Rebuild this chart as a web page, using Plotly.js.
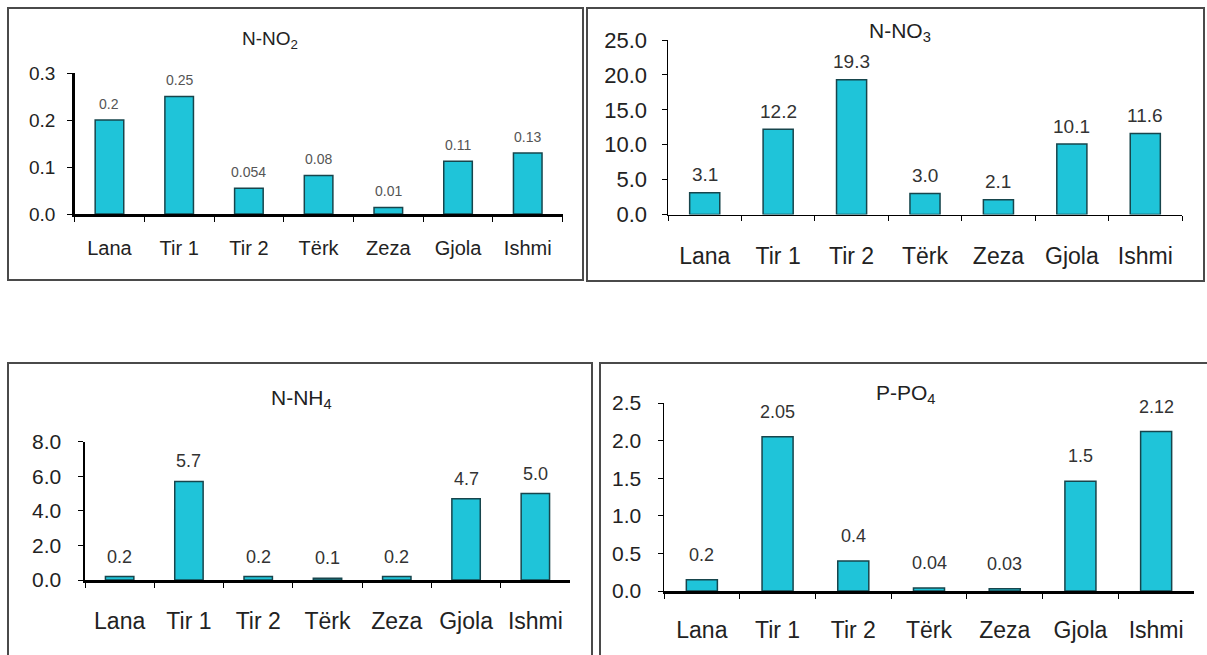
<!DOCTYPE html>
<html>
<head>
<meta charset="utf-8">
<script src="https://cdn.plot.ly/plotly-3.0.1.min.js"></script>
<style>html,body{margin:0;padding:0;background:#fff;}#chart{width:1207px;height:655px;}</style>
</head>
<body>
<div id="chart"></div>
<script>
const categories = ["Lana", "Tir 1", "Tir 2", "Tërk", "Zeza", "Gjola", "Ishmi"];

const no2Values = [0.2, 0.25, 0.055, 0.082, 0.014, 0.112, 0.13];
const no2Labels = ["0.2", "0.25", "0.054", "0.08", "0.01", "0.11", "0.13"];

const no3Values = [3.1, 12.2, 19.3, 3.0, 2.1, 10.1, 11.6];
const no3Labels = ["3.1", "12.2", "19.3", "3.0", "2.1", "10.1", "11.6"];

const nh4Values = [0.2, 5.7, 0.2, 0.1, 0.2, 4.7, 5.0];
const nh4Labels = ["0.2", "5.7", "0.2", "0.1", "0.2", "4.7", "5.0"];

const po4Values = [0.15, 2.05, 0.4, 0.04, 0.03, 1.46, 2.12];
const po4Labels = ["0.2", "2.05", "0.4", "0.04", "0.03", "1.5", "2.12"];

const panelTitles = ["N-NO<sub>2</sub>", "N-NO<sub>3</sub>", "N-NH<sub>4</sub>", "P-PO<sub>4</sub>"];

const W = 1207, H = 655;
const px = x => x / W;
const py = y => 1 - y / H;

const FONT = "Liberation Sans, Arial, sans-serif";
const barColor = "#1fc4d9";
const barLine = "#17454c";

const panels = [
  {vals: no2Values, labels: no2Labels, title: panelTitles[0], xd: [74.6, 562.6], yd: [214, 73], range: [0, 0.3], dtick: 0.1,
   tickSize: 19, catSize: 20, dataSize: 14, titleSize: 19, lw: 2.5, xlw: 2.5, dataShift: 16, dataColor: "#555",
   titlePos: [270, 40], ystand: 8, xstand: 14},
  {vals: no3Values, labels: no3Labels, title: panelTitles[1], xd: [668, 1182], yd: [214.5, 40], range: [0, 25], dtick: 5,
   tickSize: 22, catSize: 23, dataSize: 19, titleSize: 21, lw: 1.5, xlw: 1.5, dataShift: 18, dataColor: "#333",
   titlePos: [900, 32], ystand: 10, xstand: 20},
  {vals: nh4Values, labels: nh4Labels, title: panelTitles[2], xd: [85, 570], yd: [580, 441.7], range: [0, 8], dtick: 2,
   tickSize: 21, catSize: 23, dataSize: 18, titleSize: 21, lw: 2.5, xlw: 3, dataShift: 20, dataColor: "#333",
   titlePos: [301, 399], ystand: 12, xstand: 18},
  {vals: po4Values, labels: po4Labels, title: panelTitles[3], xd: [664, 1194], yd: [591, 403], range: [0, 2.5], dtick: 0.5,
   tickSize: 21, catSize: 23, dataSize: 18, titleSize: 21, lw: 1.5, xlw: 3, dataShift: 25, dataColor: "#333",
   titlePos: [906, 394], ystand: 12, xstand: 16}
];

const data = [];
const layout = {
  width: W, height: H,
  margin: {l: 0, r: 0, t: 0, b: 0},
  paper_bgcolor: "#fff", plot_bgcolor: "rgba(0,0,0,0)",
  showlegend: false,
  bargap: 0.59,
  font: {family: FONT, color: "#222"},
  annotations: [],
  shapes: []
};

panels.forEach((p, i) => {
  const n = i + 1;
  const xa = n === 1 ? "x" : "x" + n;
  const ya = n === 1 ? "y" : "y" + n;
  data.push({
    type: "bar", x: categories, y: p.vals, xaxis: xa, yaxis: ya,
    marker: {color: barColor, line: {color: barLine, width: 1.5}},
    hoverinfo: "x+y"
  });
  layout["xaxis" + (n === 1 ? "" : n)] = {
    domain: [px(p.xd[0]), px(p.xd[1])], anchor: ya,
    showline: true, linecolor: "#000", linewidth: p.xlw,
    ticks: "outside", tickson: "boundaries", ticklen: 5, tickcolor: "#000", tickwidth: 1,
    showgrid: false, zeroline: false, fixedrange: true,
    tickfont: {family: FONT, size: p.catSize, color: "#222"},
    ticklabelstandoff: p.xstand
  };
  layout["yaxis" + (n === 1 ? "" : n)] = {
    domain: [py(p.yd[0]), py(p.yd[1])], anchor: xa,
    range: p.range, dtick: p.dtick, tick0: 0, tickformat: ".1f",
    showline: true, linecolor: "#000", linewidth: p.lw,
    ticks: "outside", ticklen: 5, tickcolor: "#000", tickwidth: 1,
    showgrid: false, zeroline: false, fixedrange: true,
    tickfont: {family: FONT, size: p.tickSize, color: "#222"},
    ticklabelstandoff: p.ystand
  };
  layout.annotations.push({
    xref: "paper", yref: "paper", x: px(p.titlePos[0]), y: py(p.titlePos[1]),
    xanchor: "center", yanchor: "middle", showarrow: false,
    text: p.title, font: {family: FONT, size: p.titleSize, color: "#222"}
  });
  categories.forEach((c, k) => {
    layout.annotations.push({
      xref: xa, yref: ya, x: c, y: p.vals[k],
      xanchor: "center", yanchor: "middle", yshift: p.dataShift, showarrow: false,
      text: p.labels[k], font: {family: FONT, size: p.dataSize, color: p.dataColor}
    });
  });
});

// panel frames
const frames = [
  [8, 8, 583, 280],
  [587, 8, 1204, 281],
  [8, 363, 592, 662],
  [600, 363, 1212, 662]
];
frames.forEach(f => {
  layout.shapes.push({
    type: "rect", xref: "paper", yref: "paper",
    x0: px(f[0]), x1: px(f[2]), y0: py(f[3]), y1: py(f[1]),
    line: {color: "#4a4a4a", width: 2}, fillcolor: "rgba(0,0,0,0)"
  });
});

Plotly.newPlot("chart", data, layout, {displayModeBar: false, staticPlot: true});
</script>
</body>
</html>
